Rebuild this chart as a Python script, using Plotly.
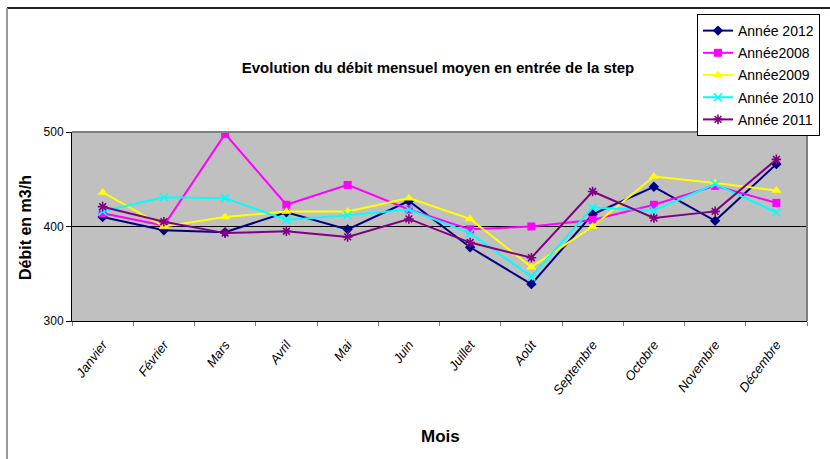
import plotly.graph_objects as go

mois = ["Janvier", "Février", "Mars", "Avril", "Mai", "Juin", "Juillet", "Août",
        "Septembre", "Octobre", "Novembre", "Décembre"]

annee_2012 = [410, 396, 394, 415, 397, 427, 378, 339, 413, 442, 406, 466]
annee_2008 = [414, 401, 498, 423, 444, 418, 397, 400, 407, 423, 443, 425]
annee_2009 = [436, 400, 410, 416, 416, 430, 408, 357, 400, 453, 446, 438]
annee_2010 = [416, 431, 430, 407, 412, 418, 393, 347, 420, 417, 445, 415]
annee_2011 = [421, 405, 393, 395, 389, 408, 383, 367, 437, 409, 416, 471]

series = [
    ("Année 2012", annee_2012, "#000080", "diamond", 8),
    ("Année2008", annee_2008, "#FF00FF", "square", 8),
    ("Année2009", annee_2009, "#FFFF00", "triangle-up", 9),
    ("Année 2010", annee_2010, "#00FFFF", "x-thin", 8),
    ("Année 2011", annee_2011, "#800080", "asterisk", 8),
]

fig = go.Figure()
for i, (name, vals, col, sym, sz) in enumerate(series):
    marker = dict(symbol=sym, size=sz, color=col)
    if sym in ("x-thin", "asterisk"):
        marker["line"] = dict(color=col, width=1.6)
    fig.add_trace(go.Scatter(
        x=mois, y=vals, name=name, mode="lines+markers",
        line=dict(color=col, width=2), marker=marker,
        legendgroup=f"g{i}",
    ))

FONT = "Liberation Sans, Arial, sans-serif"
W, H = 830, 459
L, R, T, B = 72, 807, 132, 321
PW, PH = R - L, B - T


def px(x):
    return (x - L) / PW


def py(y):
    return (B - y) / PH


fig.update_layout(
    width=W, height=H,
    margin=dict(l=L, r=W - R, t=T, b=H - B, autoexpand=False),
    paper_bgcolor="white",
    plot_bgcolor="#C0C0C0",
    font=dict(family=FONT, color="black"),
    title=dict(text="<b>Evolution du débit mensuel moyen en entrée de la step</b>",
               x=438 / W, xanchor="center", y=1 - 68 / H, yanchor="middle",
               font=dict(size=15, family=FONT, color="black")),
    showlegend=True,
    legend=dict(xref="container", yref="container",
                x=697 / W, xanchor="left", y=1 - 14 / H, yanchor="top",
                bgcolor="white", bordercolor="black", borderwidth=1,
                font=dict(size=14, family=FONT, color="black"),
                itemwidth=30, tracegroupgap=1),
    xaxis=dict(
        type="category", range=[-0.5, len(mois) - 0.5],
        showgrid=False, zeroline=False, automargin=False,
        showline=True, linecolor="black", linewidth=1,
        ticks="outside", tickson="boundaries", ticklen=4, tickcolor="#808080",
        tickangle=-53, ticklabelstandoff=10,
        tickmode="array", tickvals=mois, ticktext=["<i>" + m + "</i>" for m in mois],
        tickfont=dict(size=13, family=FONT, color="black"),
    ),
    yaxis=dict(
        range=[300, 500], dtick=100, showgrid=False, zeroline=False, automargin=False,
        showline=True, linecolor="black", linewidth=1,
        ticks="outside", ticklen=5, tickcolor="black",
        tickfont=dict(size=12, family=FONT, color="black"),
    ),
    annotations=[
        dict(text="<b>Débit en m3/h</b>", textangle=-90, xref="paper", yref="paper",
             x=px(25), y=py(228), xanchor="center", yanchor="middle", showarrow=False,
             font=dict(size=16, family=FONT, color="black")),
        dict(text="<b>Mois</b>", xref="paper", yref="paper",
             x=px(440), y=py(436), xanchor="center", yanchor="middle", showarrow=False,
             font=dict(size=17, family=FONT, color="black")),
    ],
    shapes=[
        dict(type="line", xref="paper", yref="y", x0=0, x1=1, y0=400, y1=400,
             line=dict(color="black", width=1), layer="below"),
        dict(type="line", xref="paper", yref="paper", x0=0, x1=1, y0=1, y1=1,
             line=dict(color="#808080", width=2)),
        dict(type="line", xref="paper", yref="paper", x0=1, x1=1, y0=0, y1=1,
             line=dict(color="#808080", width=2)),
        # outer chart frame
        dict(type="line", xref="paper", yref="paper",
             x0=px(7), x1=px(832), y0=py(8), y1=py(8),
             line=dict(color="#222222", width=2)),
        dict(type="line", xref="paper", yref="paper",
             x0=px(7), x1=px(7), y0=py(8), y1=py(462),
             line=dict(color="#999999", width=2)),
    ],
)

fig.write_html(
    "out.html",
    config={"displayModeBar": False},
    post_script="document.body.style.margin='0';document.body.style.padding='0';"
                "document.body.style.overflow='hidden';",
)
